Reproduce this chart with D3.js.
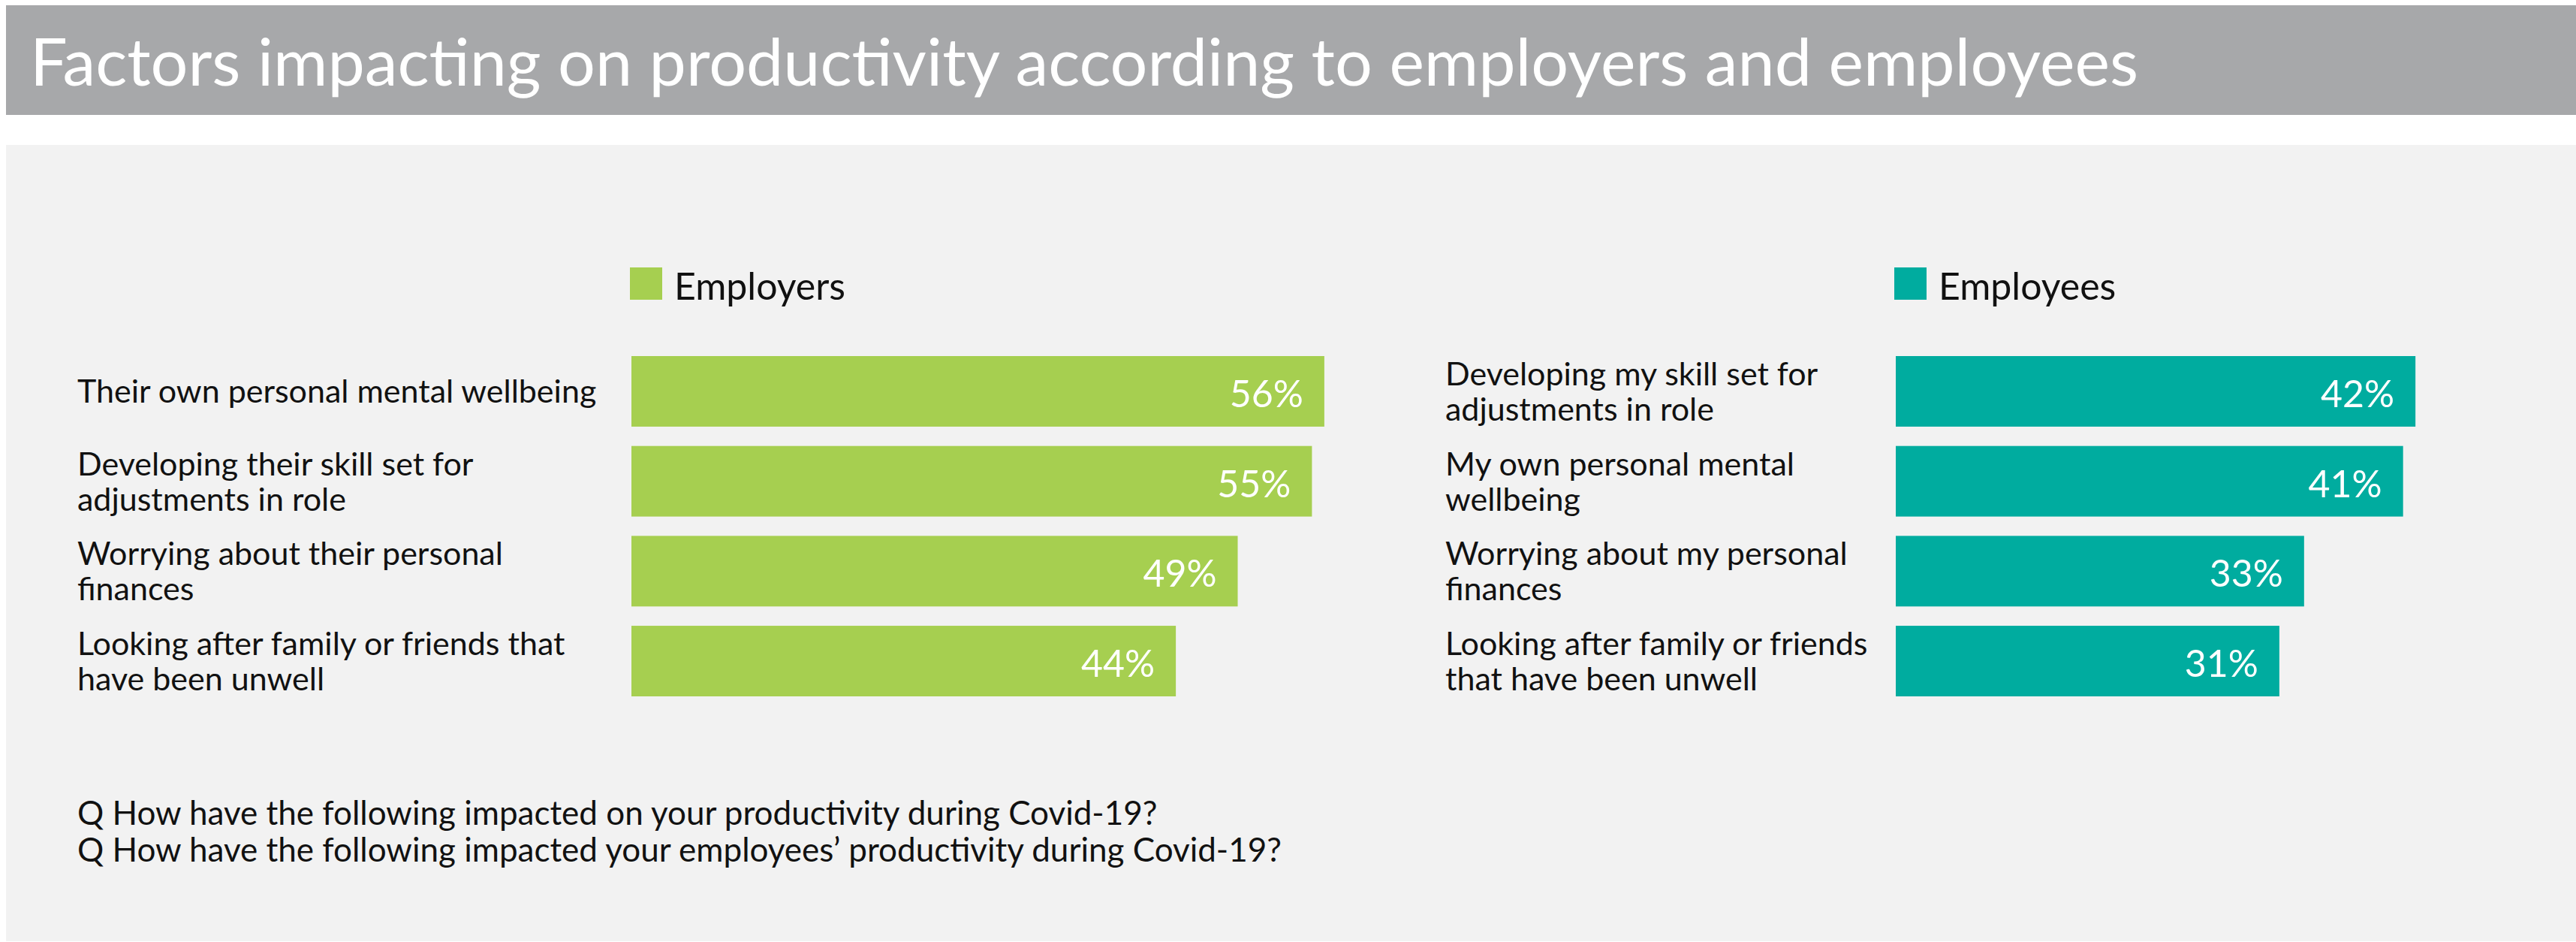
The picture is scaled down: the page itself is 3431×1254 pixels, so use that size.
<!DOCTYPE html>
<html>
<head>
<meta charset="utf-8">
<script src="https://cdn.jsdelivr.net/npm/d3@7"></script>
<style>
  html, body { margin: 0; padding: 0; background: #ffffff; }
  svg { display: block; }
  text { font-family: Lato, "Open Sans", sans-serif; }
</style>
</head>
<body>
<svg id="chart" width="3431" height="1254"></svg>
<script>
// ---- data ----
const title = "Factors impacting on productivity according to employers and employees";
const employerCategories = [
  "Their own personal mental wellbeing",
  "Developing their skill set for\nadjustments in role",
  "Worrying about their personal\nfinances",
  "Looking after family or friends that\nhave been unwell"
];
const employerValues = [56, 55, 49, 44];
const employeeCategories = [
  "Developing my skill set for\nadjustments in role",
  "My own personal mental\nwellbeing",
  "Worrying about my personal\nfinances",
  "Looking after family or friends\nthat have been unwell"
];
const employeeValues = [42, 41, 33, 31];
const seriesNames = ["Employers", "Employees"];
const seriesColors = ["#a6cf50", "#00ac9f"];
const footnotes = [
  "Q How have the following impacted on your productivity during Covid-19?",
  "Q How have the following impacted your employees\u2019 productivity during Covid-19?"
];

// ---- layout ----
const svg = d3.select("#chart");
const W = 3431, H = 1254;

svg.append("rect").attr("x", 0).attr("y", 0).attr("width", W).attr("height", H).attr("fill", "#ffffff");
// title bar
svg.append("rect").attr("x", 8).attr("y", 7).attr("width", W - 8).attr("height", 146).attr("fill", "#a7a8aa");
svg.append("text").attr("x", 40).attr("y", 114)
  .attr("fill", "#ffffff").attr("font-size", 88).attr("font-weight", 400)
  .text(title);
// panel
svg.append("rect").attr("x", 8).attr("y", 193).attr("width", W - 8).attr("height", 1060).attr("fill", "#f2f2f2");

const x = d3.scaleLinear().domain([0, 100]).range([0, 1648]);
const y = d3.scaleBand().domain(d3.range(4)).range([474, 927]).paddingInner(0.215).paddingOuter(0);

const panels = [
  { cats: employerCategories, vals: employerValues, name: seriesNames[0], color: seriesColors[0], barX: 841, labelX: 103 },
  { cats: employeeCategories, vals: employeeValues, name: seriesNames[1], color: seriesColors[1], barX: 2525, labelX: 1925 }
];

const labelSize = 43, lineH = 47, capH = 31;

panels.forEach(p => {
  const g = svg.append("g");
  // legend
  g.append("rect").attr("x", p.barX - 2).attr("y", 356).attr("width", 43).attr("height", 43).attr("fill", p.color);
  g.append("text").attr("x", p.barX + 57).attr("y", 399).attr("font-size", 50).attr("fill", "#111").text(p.name);

  const data = p.vals.map((v, i) => ({ v, i, cat: p.cats[i] }));
  // bars
  g.selectAll("rect.bar").data(data).enter().append("rect")
    .attr("class", "bar")
    .attr("x", p.barX)
    .attr("y", d => y(d.i))
    .attr("width", d => x(d.v))
    .attr("height", y.bandwidth())
    .attr("fill", p.color);
  // value labels
  g.selectAll("text.val").data(data).enter().append("text")
    .attr("class", "val")
    .attr("x", d => p.barX + x(d.v) - 28)
    .attr("y", d => y(d.i) + y.bandwidth() / 2 + 21)
    .attr("text-anchor", "end")
    .attr("font-size", 50)
    .attr("fill", "#ffffff")
    .text(d => d.v + "%");
  // category labels
  const lbl = g.selectAll("text.cat").data(data).enter().append("text")
    .attr("class", "cat")
    .attr("font-size", labelSize)
    .attr("fill", "#111");
  lbl.each(function(d) {
    const lines = d.cat.split("\n");
    const cy = y(d.i) + y.bandwidth() / 2;
    const first = cy + capH / 2 - (lines.length - 1) * lineH / 2;
    const t = d3.select(this);
    lines.forEach((ln, k) => {
      t.append("tspan").attr("x", p.labelX).attr("y", first + k * lineH).text(ln);
    });
  });
});

// footnotes
svg.selectAll("text.foot").data(footnotes).enter().append("text")
  .attr("class", "foot")
  .attr("x", 103)
  .attr("y", (d, i) => 1098 + i * 49)
  .attr("font-size", 44)
  .attr("fill", "#111")
  .text(d => d);
</script>
</body>
</html>
